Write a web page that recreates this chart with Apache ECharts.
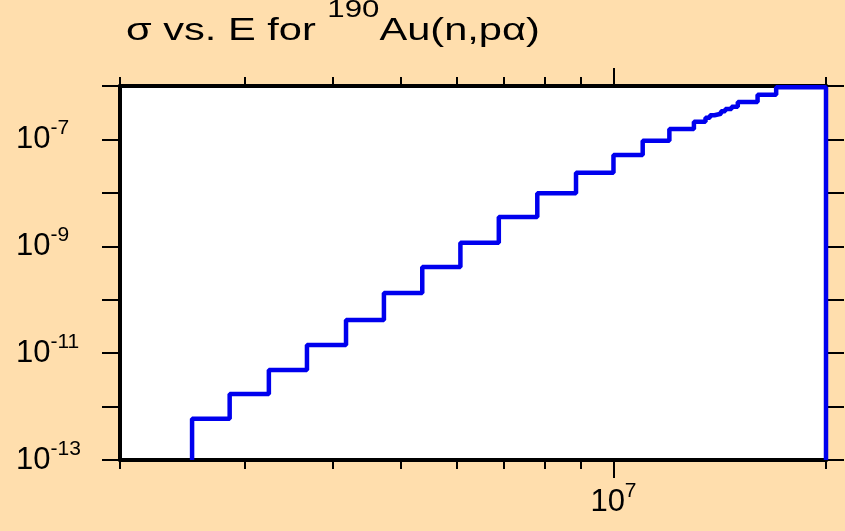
<!DOCTYPE html>
<html>
<head>
<meta charset="utf-8">
<script src="https://cdn.jsdelivr.net/npm/echarts@6/dist/echarts.min.js"></script>
<style>
  html, body { margin: 0; padding: 0; background: #ffdead; }
  #chart { width: 845px; height: 531px; }
</style>
</head>
<body>
<div id="chart"></div>
<script>
// bin edges (eV) and cross section per bin (barn)
const edges = [2.53e6, 2.86e6, 3.25e6, 3.68e6, 4.18e6, 4.73e6, 5.36e6, 6.07e6, 6.88e6, 7.80e6,
  8.85e6, 1.00e7, 1.10e7, 1.20e7, 1.30e7, 1.35e7, 1.37e7, 1.39e7, 1.42e7, 1.44e7,
  1.47e7, 1.50e7, 1.60e7, 1.70e7, 2.00e7];
const sigma = [5.93e-13, 1.72e-12, 4.84e-12, 1.42e-11, 4.17e-11, 1.34e-10, 4.09e-10, 1.17e-9, 3.53e-9, 9.8e-9,
  2.38e-8, 5.12e-8, 9.46e-8, 1.57e-7, 2.15e-7, 2.55e-7, 2.83e-7, 3.03e-7, 3.36e-7, 3.71e-7,
  4.10e-7, 5.02e-7, 6.87e-7, 9.46e-7];
const xMajorTicks = [1e7];
const xMinorTicks = [2e6, 3e6, 4e6, 5e6, 6e6, 7e6, 8e6, 9e6, 2e7];
const yTicks = [1e-13, 1e-12, 1e-11, 1e-10, 1e-9, 1e-8, 1e-7, 1e-6];
const yLabels = [1e-13, 1e-11, 1e-9, 1e-7];

const yMin = 1e-13;
const font = 'Liberation Sans, Arial, sans-serif';

// step data: rise from the floor at the first edge, drop to it at the last
const stepData = [[edges[0], yMin]];
for (let i = 0; i < sigma.length; i++) stepData.push([edges[i], sigma[i]]);
stepData.push([edges[edges.length - 1], yMin]);

function powLabel(v) {
  const e = Math.round(Math.log10(v));
  return '{b|10}{s|' + e + '}';
}
const powRich = {
  b: { fontSize: 31, fontFamily: font, color: '#000' },
  s: { fontSize: 21, fontFamily: font, color: '#000', padding: [0, 0, 22, 0] }
};

function xAxisBase(pos, ticks, len, label) {
  return {
    type: 'log', logBase: 10, min: 2e6, max: 2e7, position: pos,
    axisLine: { show: label !== null, lineStyle: { color: '#000', width: 4 } },
    axisTick: { show: true, inside: false, length: len, customValues: ticks,
      lineStyle: { color: '#000', width: 2 } },
    axisLabel: label ? { show: true, customValues: ticks, margin: 21, formatter: powLabel, rich: powRich }
      : { show: false },
    splitLine: { show: false }
  };
}

function yAxisBase(pos, showLabel) {
  return {
    type: 'log', logBase: 10, min: 1e-13, max: 1e-6, position: pos,
    axisLine: { show: true, lineStyle: { color: '#000', width: 4 } },
    axisTick: { show: true, inside: false, length: 18, customValues: yTicks,
      lineStyle: { color: '#000', width: 2 } },
    axisLabel: showLabel ? { show: true, customValues: yLabels, align: 'left', margin: 104,
      formatter: powLabel, rich: powRich } : { show: false },
    splitLine: { show: false }
  };
}

const chart = echarts.init(document.getElementById('chart'));
chart.setOption({
  backgroundColor: '#ffdead',
  animation: false,
  graphic: [{
    type: 'text', x: 126, y: 13, scaleX: 1.3,
    style: {
      text: '{a|σ vs. E for }{s|190}{a|Au(n,pα)}',
      rich: {
        a: { fontSize: 32, fontFamily: font, fill: '#000', lineHeight: 36 },
        s: { fontSize: 24, fontFamily: font, fill: '#000', lineHeight: 24, padding: [0, 0, 41, 0] }
      }
    }
  }],
  grid: { left: 120, right: 19, top: 86, bottom: 71, show: true, backgroundColor: '#fff', borderWidth: 0 },
  xAxis: [
    xAxisBase('bottom', xMajorTicks, 18, true),
    xAxisBase('bottom', xMinorTicks, 9, null),
    xAxisBase('top', xMajorTicks, 18, false),
    xAxisBase('top', xMinorTicks, 9, null)
  ],
  yAxis: [yAxisBase('left', true), yAxisBase('right', false)],
  series: [{
    type: 'line', step: 'end', xAxisIndex: 0, yAxisIndex: 0,
    data: stepData, showSymbol: false, symbol: 'none',
    lineStyle: { color: '#0000ee', width: 4.5 },
    z: 5
  }]
});
</script>
</body>
</html>
